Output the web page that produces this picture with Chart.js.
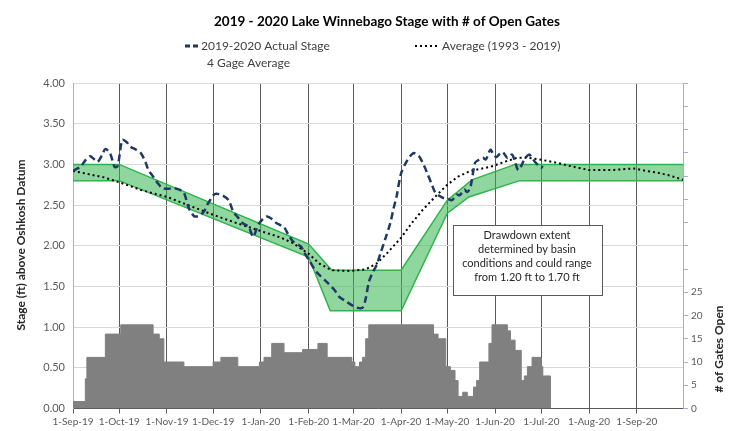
<!DOCTYPE html>
<html>
<head>
<meta charset="utf-8">
<script src="https://cdn.jsdelivr.net/npm/chart.js@4.4.0/dist/chart.umd.min.js"></script>
<style>
  html, body { margin: 0; padding: 0; background: #fff; }
</style>
</head>
<body>
<canvas id="c" width="737" height="431"></canvas>
<script>
// days counted from 1-Sep-19
const monthDays = [0, 30, 61, 91, 122, 153, 182, 213, 243, 274, 304, 335, 366];
const monthLabels = ['1-Sep-19', '1-Oct-19', '1-Nov-19', '1-Dec-19', '1-Jan-20', '1-Feb-20', '1-Mar-20',
    '1-Apr-20', '1-May-20', '1-Jun-20', '1-Jul-20', '1-Aug-20', '1-Sep-20'];

const stageDays = [0, 3, 5, 8, 11, 14, 16, 19, 21, 24, 27, 29, 32, 35, 37, 41, 44, 47, 49, 52, 55, 58, 62, 65, 69, 72,
    75, 77, 79, 82, 85, 87, 89, 91, 93, 97, 101, 104, 107, 110, 114, 117, 119, 121, 124, 126, 129, 132, 135, 137,
    140, 143, 148, 150, 153, 158, 165, 170, 173, 177, 181, 184, 188, 190, 192, 194, 197, 200, 203, 206, 208, 210,
    213, 217, 221, 223, 225, 228, 230, 233, 235, 238, 240, 243, 246, 249, 251, 254, 256, 258, 261, 263, 266, 268,
    271, 273, 275, 277, 279, 282, 285, 287, 289, 291, 293, 296, 298, 300, 302, 304, 305];
const stageVals = [2.92, 2.95, 2.97, 3.05, 3.10, 3.06, 3.03, 3.12, 3.19, 3.14, 2.97, 2.98, 3.30, 3.27, 3.22, 3.18, 3.14,
    3.03, 2.93, 2.85, 2.77, 2.71, 2.70, 2.71, 2.69, 2.65, 2.47, 2.40, 2.36, 2.37, 2.42, 2.50, 2.56, 2.62, 2.64,
    2.62, 2.56, 2.42, 2.35, 2.28, 2.23, 2.11, 2.20, 2.28, 2.34, 2.36, 2.33, 2.28, 2.25, 2.23, 2.13, 2.05, 1.99,
    1.92, 1.83, 1.68, 1.55, 1.45, 1.37, 1.32, 1.27, 1.24, 1.24, 1.35, 1.55, 1.65, 1.76, 1.93, 2.10, 2.28, 2.45,
    2.60, 2.89, 3.05, 3.14, 3.12, 3.09, 2.98, 2.89, 2.75, 2.66, 2.61, 2.59, 2.58, 2.56, 2.63, 2.62, 2.69, 2.66,
    2.72, 3.02, 3.05, 3.08, 3.06, 3.18, 3.12, 3.09, 3.13, 3.15, 3.08, 3.12, 3.03, 2.93, 2.98, 3.06, 3.12, 3.08,
    3.03, 2.99, 2.96, 2.98];

const avgDays = [0, 10, 20, 30, 45, 61, 76, 91, 106, 122, 135, 143, 153, 160, 168, 180, 190, 197, 205, 213, 220, 227,
    235, 243, 250, 258, 271, 280, 288, 296, 303, 314, 325, 335, 350, 364, 372, 379, 388, 396];
const avgVals = [2.92, 2.88, 2.84, 2.78, 2.68, 2.60, 2.49, 2.38, 2.28, 2.18, 2.10, 2.03, 1.90, 1.78, 1.70, 1.69, 1.71,
    1.78, 1.93, 2.10, 2.28, 2.44, 2.60, 2.75, 2.85, 2.92, 2.97, 3.03, 3.08, 3.08, 3.06, 3.02, 2.97, 2.93, 2.93,
    2.95, 2.92, 2.90, 2.86, 2.81];

const bandUpDays = [0, 30, 153, 168, 213, 243, 259, 287, 396];
const bandUpVals = [3.0, 3.0, 2.02, 1.70, 1.70, 2.56, 2.81, 3.0, 3.0];
const bandLoDays = [0, 30, 153, 167, 213, 243, 257, 290, 396];
const bandLoVals = [2.8, 2.8, 1.86, 1.20, 1.20, 2.40, 2.60, 2.8, 2.8];

// each value holds from its day until the next day in the list
const gateDays = [0, 8, 9, 21, 31, 52, 56, 59, 72, 91, 96, 107, 121, 124, 129, 137, 149, 159, 165, 181, 183, 186, 188,
    190, 192, 234, 237, 242, 245, 248, 250, 253, 256, 260, 262, 264, 270, 272, 282, 284, 287, 291, 293, 295, 298,
    304, 305, 310];
const gateVals = [1.5, 6.4, 11, 16, 18, 16, 15, 10, 9, 10, 11, 9, 10, 11, 14, 12, 12.7, 14, 11, 10, 9, 10, 11,
    15, 18, 16, 15, 9, 8.2, 6, 2.6, 3.5, 2.6, 4.6, 6, 10, 14, 18, 16.7, 14.7, 12.5, 6, 7, 9, 11,
    9, 7, 0];

const noteLines = ['Drawdown extent', 'determined by basin', 'conditions and could range', 'from 1.20 ft to 1.70 ft'];
const noteBox = { x0: 246.5, x1: 343, y0: 2.25, y1: 1.39 };

const pts = (xs, ys) => xs.map((x, i) => ({ x, y: ys[i] }));

Chart.defaults.font.family = 'Lato, "Liberation Sans", sans-serif';
Chart.defaults.color = '#595959';

const headerPlugin = {
    id: 'header',
    afterDraw(chart) {
        const ctx = chart.ctx;
        ctx.save();
        ctx.fillStyle = '#000';
        ctx.textBaseline = 'middle';
        ctx.textAlign = 'center';
        ctx.font = 'bold 13.5px Lato, sans-serif';
        ctx.fillText('2019 - 2020 Lake Winnebago Stage with # of Open Gates', 387, 22);

        // legend
        ctx.font = '12px Lato, sans-serif';
        ctx.textAlign = 'left';
        ctx.fillStyle = '#404040';
        ctx.strokeStyle = '#1f3864';
        ctx.lineWidth = 3;
        ctx.setLineDash([5, 3]);
        ctx.beginPath(); ctx.moveTo(185, 46); ctx.lineTo(200, 46); ctx.stroke();
        ctx.fillText('2019-2020 Actual Stage', 201, 46);
        ctx.fillText('4 Gage Average', 207, 63);
        ctx.strokeStyle = '#000';
        ctx.lineWidth = 2;
        ctx.setLineDash([2, 3]);
        ctx.beginPath(); ctx.moveTo(415, 46); ctx.lineTo(437, 46); ctx.stroke();
        ctx.fillText('Average (1993 - 2019)', 442, 46);
        ctx.setLineDash([]);

        // axis titles
        ctx.font = 'bold 12px Lato, sans-serif';
        ctx.fillStyle = '#262626';
        ctx.textAlign = 'center';
        ctx.translate(21, 245);
        ctx.rotate(-Math.PI / 2);
        ctx.fillText('Stage (ft) above Oshkosh Datum', 0, 0);
        ctx.rotate(Math.PI / 2);
        ctx.translate(-21, -245);
        ctx.translate(719, 349);
        ctx.rotate(-Math.PI / 2);
        ctx.fillText('# of Gates Open', 0, 0);
        ctx.restore();
    },
    afterDatasetsDraw(chart) {
        const { ctx, scales: { x, y } } = chart;
        const l = x.getPixelForValue(noteBox.x0), r = x.getPixelForValue(noteBox.x1);
        const t = y.getPixelForValue(noteBox.y0), b = y.getPixelForValue(noteBox.y1);
        ctx.save();
        ctx.fillStyle = '#fff';
        ctx.strokeStyle = '#595959';
        ctx.lineWidth = 1;
        ctx.fillRect(l, t, r - l, b - t);
        ctx.strokeRect(Math.round(l) + 0.5, Math.round(t) + 0.5, Math.round(r - l), Math.round(b - t));
        ctx.fillStyle = '#262626';
        ctx.font = '11px Lato, sans-serif';
        ctx.textAlign = 'center';
        ctx.textBaseline = 'middle';
        const cx = (l + r) / 2;
        noteLines.forEach((s, i) => ctx.fillText(s, cx, t + 10 + i * 14));
        ctx.restore();
    }
};

new Chart(document.getElementById('c'), {
    type: 'line',
    data: {
        datasets: [
            {
                label: '2019-2020 Actual Stage',
                data: pts(stageDays, stageVals),
                borderColor: '#1f3864',
                borderWidth: 2.5,
                borderDash: [7, 4],
                pointRadius: 0,
                tension: 0.3,
                yAxisID: 'y'
            },
            {
                label: 'Average (1993 - 2019)',
                data: pts(avgDays, avgVals),
                borderColor: '#000',
                borderWidth: 2,
                borderDash: [2, 3],
                pointRadius: 0,
                yAxisID: 'y'
            },
            {
                label: 'band upper',
                data: pts(bandUpDays, bandUpVals),
                borderColor: '#2eb34b',
                borderWidth: 1.5,
                backgroundColor: 'rgba(52,180,80,0.55)',
                fill: '+1',
                pointRadius: 0,
                yAxisID: 'y'
            },
            {
                label: 'band lower',
                data: pts(bandLoDays, bandLoVals),
                borderColor: '#2eb34b',
                borderWidth: 1.5,
                fill: false,
                pointRadius: 0,
                yAxisID: 'y'
            },
            {
                label: '# of Gates Open',
                data: pts(gateDays, gateVals),
                stepped: 'before',
                borderColor: '#808080',
                borderWidth: 1,
                backgroundColor: '#808080',
                fill: 'origin',
                pointRadius: 0,
                yAxisID: 'y2'
            }
        ]
    },
    options: {
        responsive: false,
        animation: false,
        layout: { padding: { top: 83, left: 0, right: 0, bottom: 0 } },
        plugins: {
            legend: { display: false },
            title: { display: false },
            tooltip: { enabled: false }
        },
        scales: {
            x: {
                type: 'linear',
                min: 0,
                max: 396,
                afterBuildTicks: axis => { axis.ticks = monthDays.map(v => ({ value: v })); },
                afterFit: s => { s.height = 22.5; },
                ticks: {
                    autoSkip: false,
                    maxRotation: 0,
                    padding: 2,
                    font: { size: 10 },
                    callback: v => monthLabels[monthDays.indexOf(v)] ?? ''
                },
                grid: { color: '#595959', tickColor: '#595959', tickLength: 5 },
                border: { color: '#595959' }
            },
            y: {
                position: 'left',
                min: 0,
                max: 4,
                afterFit: s => { s.width = 73; },
                ticks: { stepSize: 0.5, padding: 8, font: { size: 11 }, callback: v => v.toFixed(2) },
                grid: { color: '#d9d9d9', drawTicks: false },
                border: { color: '#b4a7d6' }
            },
            y2: {
                position: 'right',
                min: 0,
                max: 70,
                afterFit: s => { s.width = 54; },
                ticks: { stepSize: 5, padding: 3, font: { size: 10 }, callback: v => (v <= 25 ? v : '') },
                grid: { drawOnChartArea: false, tickColor: '#b4a7d6', tickLength: 5 },
                border: { color: '#b4a7d6' }
            }
        }
    },
    plugins: [headerPlugin]
});
</script>
</body>
</html>
